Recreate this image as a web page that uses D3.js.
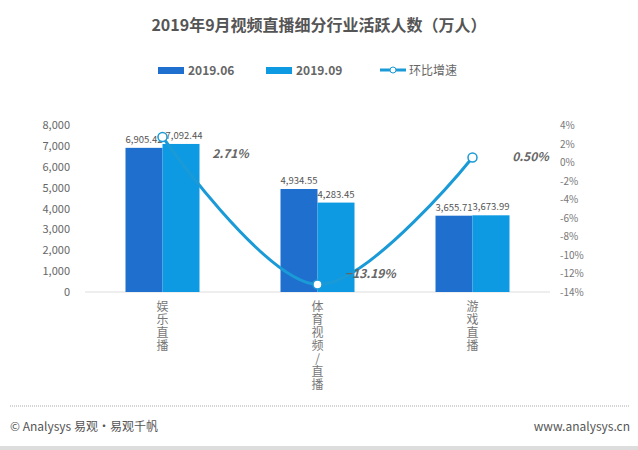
<!DOCTYPE html>
<html><head><meta charset="utf-8">
<script src="https://cdn.jsdelivr.net/npm/d3@7"></script>
<style>body{margin:0;background:#fff}svg{font-family:"Noto Sans CJK SC","Noto Sans",sans-serif}</style>
</head><body><svg id="c" width="638" height="450"></svg>
<script>
const categories=["娱乐直播","体育视频/直播","游戏直播"];
const s0606=[6905.42,4934.55,3655.71];
const s0909=[7092.44,4283.45,3673.99];
const growth=[2.71,-13.19,0.50];
const leftTicks=[0,1000,2000,3000,4000,5000,6000,7000,8000];
const rightTicks=[4,2,0,-2,-4,-6,-8,-10,-12,-14];
const seriesNames=["2019.06","2019.09","环比增速"];
const C1="#1f6fcf",C2="#0e9ae3",CL="#1a9ad6";
const svg=d3.select("#c");
svg.append("text").attr("x",319).attr("y",31).attr("text-anchor","middle").attr("font-size",16).attr("font-weight","bold").attr("fill","#555").text("2019年9月视频直播细分行业活跃人数（万人）");
const x=d3.scaleBand().domain(categories).range([85,550]);
const y=d3.scaleLinear().domain([0,8000]).range([292,125]);
const yr=d3.scaleLinear().domain([-14,4]).range([292,125]);
svg.append("line").attr("x1",85).attr("x2",550).attr("y1",292).attr("y2",292).attr("stroke","#ddd");
const g=svg.append("g");
leftTicks.forEach(t=>g.append("text").attr("x",70).attr("y",y(t)+4).attr("text-anchor","end").attr("font-size",11).attr("fill","#666").text(d3.format(",")(t)));
rightTicks.forEach(t=>g.append("text").attr("x",560).attr("y",yr(t)+4).attr("font-size",10).attr("fill","#777").text(t+"%"));
const bw=37;
categories.forEach((c,i)=>{
  const cx=x(c)+x.bandwidth()/2;
  svg.append("rect").attr("x",cx-bw).attr("width",bw).attr("y",y(s0606[i])).attr("height",292-y(s0606[i])).attr("fill",C1);
  svg.append("rect").attr("x",cx).attr("width",bw).attr("y",y(s0909[i])).attr("height",292-y(s0909[i])).attr("fill",C2);
  svg.append("text").attr("x",cx-bw/2).attr("y",y(s0606[i])-5).attr("text-anchor","middle").attr("font-size",9.5).attr("fill","#555").text(d3.format(",.2f")(s0606[i]));
  svg.append("text").attr("x",cx+bw/2+(i==0?3:0)).attr("y",y(s0909[i])-5).attr("text-anchor","middle").attr("font-size",9.5).attr("fill","#555").text(d3.format(",.2f")(s0909[i]));
  svg.append("text").attr("x",cx).attr("y",300).attr("font-size",12).attr("fill","#777")
    .style("writing-mode","vertical-rl").style("text-orientation","upright").attr("letter-spacing",1).text(c);
});
const pts=categories.map((c,i)=>[x(c)+x.bandwidth()/2,yr(growth[i])]);
svg.append("path").attr("d",d3.line().curve(d3.curveCatmullRom.alpha(0.5))(pts)).attr("fill","none").attr("stroke",CL).attr("stroke-width",3);
const lblOff=[[68,21],[53,-6],[58,4]];
pts.forEach((p,i)=>{
  svg.append("circle").attr("cx",p[0]).attr("cy",p[1]).attr("r",4.5).attr("fill","#fff").attr("stroke",CL).attr("stroke-width",1.5);
  svg.append("text").attr("x",p[0]+lblOff[i][0]).attr("y",p[1]+lblOff[i][1]).attr("text-anchor","middle").attr("font-size",12).attr("font-weight","bold").attr("font-style","italic").attr("fill","#666").text(d3.format(".2f")(growth[i])+"%");
});
svg.append("rect").attr("x",158).attr("y",67).attr("width",26).attr("height",7).attr("fill",C1);
svg.append("text").attr("x",188).attr("y",75).attr("font-size",12).attr("font-weight","bold").attr("fill","#666").text(seriesNames[0]);
svg.append("rect").attr("x",266).attr("y",67).attr("width",26).attr("height",7).attr("fill",C2);
svg.append("text").attr("x",296).attr("y",75).attr("font-size",12).attr("font-weight","bold").attr("fill","#666").text(seriesNames[1]);
svg.append("line").attr("x1",380).attr("x2",406).attr("y1",70).attr("y2",70).attr("stroke",CL).attr("stroke-width",3);
svg.append("circle").attr("cx",393).attr("cy",70).attr("r",3).attr("fill","#fff").attr("stroke",CL);
svg.append("text").attr("x",409).attr("y",75).attr("font-size",12).attr("fill","#666").text(seriesNames[2]);
svg.append("line").attr("x1",10).attr("x2",630).attr("y1",406).attr("y2",406).attr("stroke","#aaa").attr("stroke-dasharray","1,1");
svg.append("text").attr("x",10).attr("y",431).attr("font-size",12).attr("fill","#555").text("© Analysys 易观·易观千帆");
svg.append("text").attr("x",630).attr("y",431).attr("text-anchor","end").attr("font-size",12).attr("fill","#555").text("www.analysys.cn");
svg.append("rect").attr("x",0).attr("y",446).attr("width",638).attr("height",4).attr("fill","#ddd");
</script></body></html>
